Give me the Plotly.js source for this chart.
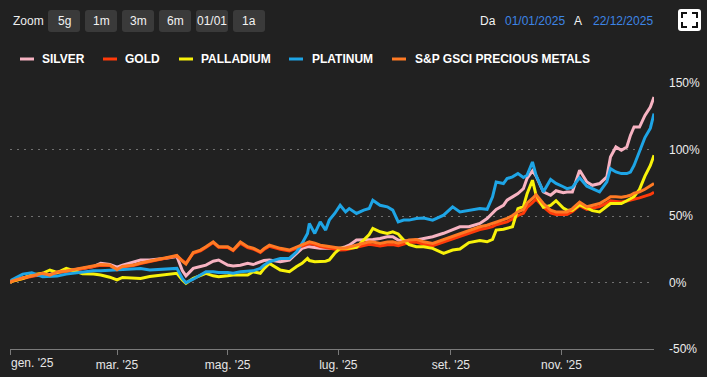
<!DOCTYPE html>
<html><head><meta charset="utf-8">
<script src="https://cdn.plot.ly/plotly-3.0.1.min.js"></script>
<style>html,body{margin:0;padding:0;background:#212121;overflow:hidden}#chart{width:707px;height:377px}</style>
</head><body><div id="chart"></div>
<script>
const dates = ['2025-01-01','2025-01-02','2025-01-08','2025-01-13','2025-01-19','2025-01-23','2025-01-27','2025-02-01','2025-02-07','2025-02-10',
'2025-02-16','2025-02-20','2025-02-25','2025-03-01','2025-03-04','2025-03-10','2025-03-14','2025-03-19','2025-03-23','2025-03-28',
'2025-04-03','2025-04-06','2025-04-08','2025-04-12','2025-04-16','2025-04-19','2025-04-23','2025-04-26','2025-05-01','2025-05-04',
'2025-05-08','2025-05-12','2025-05-15','2025-05-19','2025-05-21','2025-05-24','2025-05-30','2025-06-04','2025-06-08','2025-06-11',
'2025-06-14','2025-06-15','2025-06-18','2025-06-21','2025-06-24','2025-06-26','2025-06-29','2025-07-02','2025-07-05','2025-07-07',
'2025-07-11','2025-07-15','2025-07-18','2025-07-20','2025-07-24','2025-07-28','2025-07-31','2025-08-03','2025-08-06','2025-08-09',
'2025-08-13','2025-08-17','2025-08-22','2025-08-28','2025-09-02','2025-09-06','2025-09-11','2025-09-17','2025-09-21','2025-09-24',
'2025-09-26','2025-09-30','2025-10-02','2025-10-05','2025-10-08','2025-10-11','2025-10-13','2025-10-16','2025-10-18','2025-10-22',
'2025-10-26','2025-10-29','2025-11-02','2025-11-04','2025-11-07','2025-11-11','2025-11-15','2025-11-18','2025-11-22','2025-11-26',
'2025-11-28','2025-12-01','2025-12-04','2025-12-07','2025-12-09','2025-12-11','2025-12-14','2025-12-17','2025-12-20','2025-12-22'];

const silver = [0,1.0,3.5,5.0,5.5,6.0,7.5,8.5,9.5,10.5,
12.0,14.4,13.5,11.5,13.0,15.0,16.9,17.0,17.5,18.2,
19.5,9.0,5.0,10.6,12.0,13.1,16.0,16.9,13.1,12.5,
13.0,14.4,13.5,15.6,16.5,16.9,15.6,16.9,22.0,25.7,
26.9,26.9,26.3,25.7,25.7,25.7,25.7,25.7,26.9,28.1,
31.9,31.9,31.9,32.4,33.1,34.4,34.4,31.9,31.5,30.6,
32.0,33.1,34.4,37.0,39.4,41.9,41.9,44.4,48.1,51.9,
55.0,58.0,61.9,64.4,66.9,70.5,78.2,84.0,80.0,68.1,
65.6,69.0,67.5,68.0,68.1,84.4,75.6,73.1,74.4,79.4,
94.4,101.9,99.4,101.9,110.6,116.9,116.9,125.6,131.9,139.4];

const gold = [0,1.0,3.0,4.6,6.5,5.2,7.5,8.3,9.7,10.5,
11.9,13.0,12.8,9.6,11.6,12.8,14.3,15.8,16.6,18.2,
20.0,16.5,14.5,22.0,23.8,26.3,30.0,26.5,26.4,24.0,
29.5,26.3,25.2,22.6,24.8,27.2,25.0,23.8,25.8,27.0,
28.4,29.3,28.5,27.0,26.3,25.8,25.0,24.5,24.6,25.3,
26.6,27.8,28.7,28.3,27.4,28.4,28.5,27.7,28.8,30.0,
30.4,28.8,27.7,30.5,33.0,34.6,37.5,39.8,40.9,42.0,
43.4,44.9,45.6,47.7,50.4,52.0,56.5,60.0,62.8,56.9,
52.3,51.2,51.0,51.2,53.4,57.8,54.9,55.6,57.0,59.7,
61.4,61.0,60.6,61.3,61.9,63.0,63.6,64.9,66.2,67.8];

const palladium = [0,1.0,3.0,5.6,6.9,9.4,7.5,10.6,8.1,6.5,
6.3,5.6,4.0,1.9,3.8,3.5,3.1,4.5,5.0,5.6,
6.9,1.9,-0.6,3.1,5.6,6.9,5.0,4.4,5.0,5.6,
5.6,5.6,8.1,6.9,10.5,14.4,9.4,8.1,12.0,14.4,
18.1,16.5,15.6,15.6,16.0,16.9,22.0,25.7,25.7,25.7,
26.5,31.5,36.0,40.6,38.1,36.9,38.1,36.5,31.9,28.5,
26.9,26.9,25.7,21.9,24.4,25.2,30.0,31.5,30.6,32.5,
39.4,40.0,40.6,41.9,55.6,57.0,66.5,76.9,65.6,56.5,
58.0,61.5,56.0,54.4,54.4,58.5,56.0,54.0,53.1,57.5,
59.4,59.4,59.4,61.5,63.1,64.5,70.0,80.0,88.0,95.6];

const platinum = [0,2.0,6.3,7.3,4.4,4.8,4.8,6.3,7.5,8.1,
8.8,8.9,9.4,9.4,10.0,10.6,10.6,9.4,9.8,10.0,
10.6,3.0,-0.1,2.5,5.6,8.1,8.1,7.6,7.5,7.0,
8.1,8.6,8.8,10.6,13.1,15.6,18.1,18.1,23.1,29.4,
36.9,44.4,36.9,45.6,39.4,46.9,51.9,58.1,53.1,55.6,
51.9,54.4,55.6,61.9,58.1,56.9,54.4,45.6,47.0,46.9,
48.1,48.5,46.9,50.6,56.9,53.1,54.4,55.6,55.0,64.4,
75.6,74.4,78.1,79.4,81.9,79.0,80.6,90.6,80.6,68.1,
77.5,74.5,72.0,70.6,71.5,78.8,72.4,70.6,68.1,75.6,
85.6,83.1,81.9,81.9,83.0,88.0,99.0,109.0,116.0,127.0];

const gsciPrecious = [0,1.1,3.4,4.9,6.9,5.5,7.9,8.6,10.1,10.9,
12.4,13.5,13.1,9.8,12.0,13.1,14.6,16.1,16.9,18.4,
20.3,16.1,13.9,22.5,24.4,26.9,30.6,26.9,26.9,24.4,
30.4,26.9,25.9,23.1,25.5,28.1,25.7,24.4,26.6,28.1,
29.6,30.6,29.6,28.1,27.4,26.9,26.3,25.7,25.9,26.6,
28.1,29.4,30.6,30.4,29.4,30.4,30.6,29.6,30.6,31.9,
32.4,30.6,29.4,32.3,34.9,36.4,39.4,41.9,43.1,44.4,
45.8,47.3,48.2,50.3,53.1,54.8,59.6,63.2,66.0,59.4,
54.4,53.1,53.1,53.1,55.5,60.4,56.9,57.8,59.4,62.6,
64.4,64.4,64.1,64.9,65.6,67.1,68.1,70.1,72.4,74.4];

const seriesNames = ['SILVER','GOLD','PALLADIUM','PLATINUM','S&P GSCI PRECIOUS METALS'];
const seriesColors = ['#f7b3c2','#ff3a0a','#f8f20a','#1ea5e6','#ff7a24'];
const seriesValues = [silver, gold, palladium, platinum, gsciPrecious];

const monthTickVals = ['2025-01-01','2025-03-01','2025-05-01','2025-07-01','2025-09-01','2025-11-01'];
const monthTickText = ["gen. '25","mar. '25","mag. '25","lug. '25","set. '25","nov. '25"];
const yTickVals = [-50,0,50,100,150];
const yTickText = ['-50%','0%','50%','100%','150%'];
const zoomButtons = ['5g','1m','3m','6m','01/01','1a'];
const rangeFrom = '01/01/2025';
const rangeTo = '22/12/2025';

// ---- layout geometry (pixels) ----
const W=707, H=377, ML=10, MR=53, MT=83, MB=28;
const PW=W-ML-MR, PH=H-MT-MB;
const P = x => (x-ML)/PW;
const Q = y => (H-MB-y)/PH;
const FONT = 'Liberation Sans, Arial, Helvetica, sans-serif';

function rrect(x0,y0,x1,y1,r){
  return `M ${P(x0+r)},${Q(y0)} L ${P(x1-r)},${Q(y0)} Q ${P(x1)},${Q(y0)} ${P(x1)},${Q(y0+r)} `+
         `L ${P(x1)},${Q(y1-r)} Q ${P(x1)},${Q(y1)} ${P(x1-r)},${Q(y1)} `+
         `L ${P(x0+r)},${Q(y1)} Q ${P(x0)},${Q(y1)} ${P(x0)},${Q(y1-r)} `+
         `L ${P(x0)},${Q(y0+r)} Q ${P(x0)},${Q(y0)} ${P(x0+r)},${Q(y0)} Z`;
}

const traces = seriesNames.map((n,i)=>({
  type:'scatter', mode:'lines', name:n, x:dates, y:seriesValues[i],
  line:{color:seriesColors[i], width:3}, hoverinfo:'skip', showlegend:false
}));

const shapes = [];
const annotations = [];

// toolbar
annotations.push({xref:'paper',yref:'paper',x:P(11),y:Q(21),xanchor:'left',yanchor:'middle',showarrow:false,
  text:'Zoom',font:{family:FONT,size:12,color:'#eeeeee'}});
const btnX = [48,85,122,159,196,233];
zoomButtons.forEach((b,i)=>{
  shapes.push({type:'path',xref:'paper',yref:'paper',path:rrect(btnX[i],10,btnX[i]+32,32,3),
    fillcolor:'#3a3a3a',line:{width:0}});
  annotations.push({xref:'paper',yref:'paper',x:P(btnX[i]+16),y:Q(21),xanchor:'center',yanchor:'middle',showarrow:false,
    text:b,font:{family:FONT,size:12,color:'#f2f2f2'}});
});
// date range
annotations.push({xref:'paper',yref:'paper',x:P(478),y:Q(20.5),xanchor:'left',yanchor:'middle',showarrow:false,text:'Da',font:{family:FONT,size:12,color:'#f2f2f2'}});
annotations.push({xref:'paper',yref:'paper',x:P(503),y:Q(20.5),xanchor:'left',yanchor:'middle',showarrow:false,text:rangeFrom,font:{family:FONT,size:12,color:'#3d85e6'}});
annotations.push({xref:'paper',yref:'paper',x:P(572),y:Q(20.5),xanchor:'left',yanchor:'middle',showarrow:false,text:'A',font:{family:FONT,size:12,color:'#f2f2f2'}});
annotations.push({xref:'paper',yref:'paper',x:P(591),y:Q(20.5),xanchor:'left',yanchor:'middle',showarrow:false,text:rangeTo,font:{family:FONT,size:12,color:'#3d85e6'}});
// fullscreen icon
shapes.push({type:'path',xref:'paper',yref:'paper',path:rrect(678,9,701,31,3),fillcolor:'#ffffff',line:{width:0}});
const ic = {l:682,r:697,t:13,b:27,a:5};
[
 `M ${P(ic.l)},${Q(ic.t+ic.a)} L ${P(ic.l)},${Q(ic.t)} L ${P(ic.l+ic.a)},${Q(ic.t)}`,
 `M ${P(ic.r-ic.a)},${Q(ic.t)} L ${P(ic.r)},${Q(ic.t)} L ${P(ic.r)},${Q(ic.t+ic.a)}`,
 `M ${P(ic.l)},${Q(ic.b-ic.a)} L ${P(ic.l)},${Q(ic.b)} L ${P(ic.l+ic.a)},${Q(ic.b)}`,
 `M ${P(ic.r-ic.a)},${Q(ic.b)} L ${P(ic.r)},${Q(ic.b)} L ${P(ic.r)},${Q(ic.b-ic.a)}`
].forEach(p=>shapes.push({type:'path',xref:'paper',yref:'paper',path:p,line:{color:'#111111',width:2}}));

// legend
const legSw = [20,103,179,289,392];
const legTx = [40,123,199,310,413];
seriesNames.forEach((n,i)=>{
  shapes.push({type:'line',xref:'paper',yref:'paper',x0:P(legSw[i]),x1:P(legSw[i]+14),y0:Q(59),y1:Q(59),
    line:{color:seriesColors[i],width:3}});
  annotations.push({xref:'paper',yref:'paper',x:P(legTx[i]),y:Q(59),xanchor:'left',yanchor:'middle',showarrow:false,
    text:n,font:{family:FONT,size:12,color:'#ffffff',weight:'bold'}});
});

// first month label (left aligned)
annotations.push({xref:'x',yref:'paper',x:monthTickVals[0],y:Q(363),xanchor:'left',yanchor:'middle',showarrow:false,
  xshift:-1,text:monthTickText[0],font:{family:FONT,size:12,color:'#e6e6e6'}});

const layout = {
  width:W, height:H,
  margin:{l:ML,r:MR,t:MT,b:MB,pad:0},
  paper_bgcolor:'#212121', plot_bgcolor:'#212121',
  showlegend:false,
  font:{family:FONT,size:12,color:'#e6e6e6'},
  xaxis:{type:'date', range:['2025-01-01','2025-12-22'],
    tickvals:monthTickVals, ticktext:monthTickText.map((t,i)=>i===0?'':t),
    showgrid:false, zeroline:false, showline:true, linecolor:'#7a7a7a', linewidth:1,
    ticks:'outside', ticklen:5, tickcolor:'#7a7a7a', tickwidth:1,
    tickfont:{family:FONT,size:12,color:'#e6e6e6'}, fixedrange:true},
  yaxis:{side:'right', range:[-50,150], tickvals:yTickVals, ticktext:yTickText,
    showgrid:true, gridcolor:'#707070', gridwidth:1, griddash:'2px,5px',
    zeroline:false, showline:false, ticks:'', ticklabelstandoff:14,
    tickfont:{family:FONT,size:12,color:'#eeeeee'}, fixedrange:true},
  shapes:shapes, annotations:annotations
};

Plotly.newPlot('chart', traces, layout, {staticPlot:true, displayModeBar:false});
</script>
</body></html>
